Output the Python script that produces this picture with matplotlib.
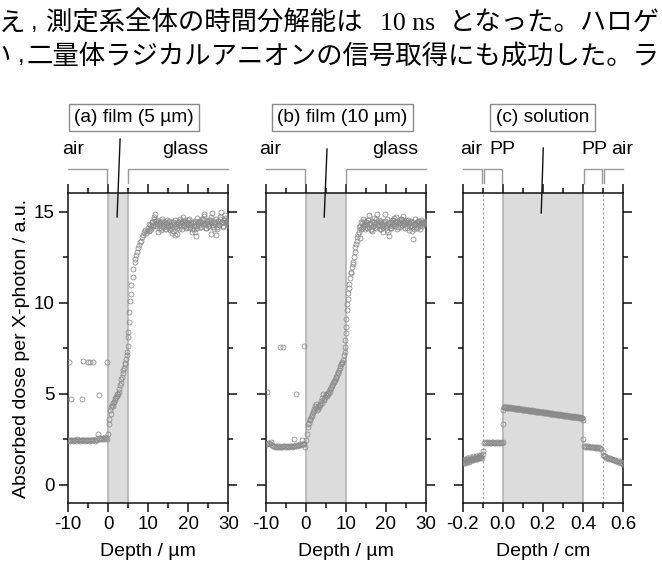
import numpy as np
import matplotlib
matplotlib.use('Agg')
import matplotlib.pyplot as plt
from matplotlib.transforms import blended_transform_factory
from matplotlib.ticker import MultipleLocator

plt.rcParams['font.family'] = ['Liberation Sans', 'DejaVu Sans']
plt.rcParams['axes.unicode_minus'] = False

# ---------------- text ----------------
jp_l1_first = "え"
jp_comma = ","
jp_l1_rest = "測定系全体の時間分解能は"
jp_l1_ns = "10 ns"
jp_l1_end = "となった。ハロゲ"
jp_l2_first = "い"
jp_l2_rest = "二量体ラジカルアニオンの信号取得にも成功した。ラ"

titles = ["(a) film (5 µm)", "(b) film (10 µm)", "(c) solution"]
xlabels = ["Depth / µm", "Depth / µm", "Depth / cm"]
ylabel = "Absorbed dose per X-photon / a.u."

# ---------------- panel (a) data ----------------
a_air_range = (-10.0, -0.25)
a_air_y = [2.42, 2.45, 2.40, 2.47, 2.43, 2.41, 2.46, 2.44, 2.40, 2.48,
           2.43, 2.45, 2.41, 2.47, 2.44, 2.42, 2.46, 2.40, 2.45, 2.43,
           2.47, 2.41, 2.44, 2.46, 2.42, 2.45, 2.43, 2.40, 2.48, 2.44,
           2.80, 2.55, 2.50, 2.58, 2.52, 2.55, 2.50, 2.60, 2.57, 2.52]
a_out_x = [-9.75, -6.25, -5.1, -4.5, -3.8, -0.3, -9.3, -6.4, -2.3]
a_out_y = [6.72, 6.80, 6.72, 6.72, 6.72, 6.75, 4.70, 4.72, 4.90]
a_film_range = (0.0, 5.0)
a_film_y = [2.75, 3.30, 3.60, 4.10, 3.85, 4.25, 4.35, 4.30, 4.50, 4.55,
            4.62, 4.75, 4.82, 4.88, 4.95, 5.00, 5.10, 5.25, 5.45, 5.60,
            5.80, 5.90, 6.10, 6.30, 6.40, 6.60, 6.70, 6.90, 7.10, 7.30, 7.60]
a_rise_x = [5.08, 5.08, 5.25, 5.33, 5.5, 5.67, 5.83, 6.1, 6.33, 6.6, 6.83, 7.0,
            7.17, 7.4, 7.67, 7.9, 8.17, 8.4, 8.67, 8.9, 9.25, 9.5, 9.75]
a_rise_y = [8.11, 8.40, 8.94, 9.49, 10.1, 10.46, 10.96, 11.4, 11.86, 12.2, 12.4, 12.6,
            12.77, 13.0, 13.15, 13.3, 13.4, 13.6, 13.7, 13.9, 14.0, 13.8, 13.95]
a_plat_range = (10.0, 30.0)
a_plat_y = [14.10, 13.95, 14.25, 14.05, 14.40, 14.20, 14.60, 14.85, 14.50, 14.30,
            14.45, 14.10, 14.35, 14.00, 14.50, 14.20, 14.40, 14.05, 14.30, 14.55,
            14.15, 14.40, 14.25, 14.10, 14.45, 13.95, 14.30, 13.70, 14.20, 13.75,
            14.35, 14.05, 14.50, 14.20, 14.45, 14.70, 14.25, 14.55, 14.10, 14.40,
            14.30, 14.60, 14.15, 14.35, 14.05, 14.45, 14.20, 13.85, 13.65, 14.10,
            14.40, 14.25, 14.50, 14.15, 14.35, 14.60, 14.85, 14.30, 14.10, 14.45,
            14.20, 14.55, 14.35, 14.70, 14.90, 14.25, 14.05, 14.40, 13.70, 14.15,
            14.50, 14.30, 14.60, 14.95, 14.40, 14.20, 14.55, 14.65, 14.35, 14.45, 14.25]
a_plat2_range = (10.125, 29.875)
a_plat2_y = [14.30, 14.00, 14.15, 14.45, 14.25, 14.70, 14.35, 14.20, 14.55, 13.85,
             14.25, 14.40, 14.10, 14.60, 14.30, 14.15, 14.45, 14.05, 14.35, 14.20,
             14.50, 14.00, 14.25, 13.80, 14.40, 14.15, 14.55, 14.30, 14.10, 14.45,
             14.25, 14.60, 14.35, 14.05, 14.50, 14.20, 14.40, 14.15, 14.30, 14.55,
             14.10, 14.45, 14.25, 13.90, 14.35, 14.05, 14.50, 14.20, 14.65, 14.30,
             14.45, 14.15, 14.40, 14.60, 14.25, 14.75, 14.35, 14.10, 14.50, 14.30,
             14.20, 14.55, 13.75, 14.40, 14.15, 14.45, 14.30, 14.60, 14.05, 14.50,
             14.25, 14.70, 14.35, 14.45, 14.15, 14.55, 14.80, 14.40, 14.50, 14.30]

# ---------------- panel (b) data ----------------
b_air_range = (-10.0, -0.25)
b_air_y = [2.25, 2.20, 2.30, 2.28, 2.22, 2.32, 2.18, 2.12, 2.10, 2.08,
           2.10, 2.06, 2.09, 2.07, 2.11, 2.08, 2.06, 2.10, 2.09, 2.07,
           2.11, 2.08, 2.10, 2.06, 2.09, 2.12, 2.08, 2.10, 2.13, 2.11,
           2.15, 2.12, 2.18, 2.15, 2.20, 2.17, 2.22, 2.25, 2.20, 2.05]
b_out_x = [-9.75, -6.4, -5.6, -0.35, -2.5, -2.85, -0.9]
b_out_y = [5.08, 7.56, 7.56, 7.60, 4.99, 2.50, 2.42]
b_film_range = (0.0, 9.75)
b_film_y = [2.45, 2.80, 3.15, 3.40, 3.60, 3.70, 3.85, 4.00, 4.15, 4.30,
            4.20, 4.10, 4.30, 4.25, 4.45, 4.60, 4.50, 4.95, 4.70, 4.80,
            4.90, 4.85, 5.05, 5.15, 5.10, 5.30, 5.45, 5.55, 5.65, 5.75,
            5.90, 6.00, 6.10, 6.30, 6.40, 6.60, 6.70, 6.85, 7.10, 7.30]
b_film2_x = [0.5, 1.0, 1.5, 2.1, 2.6, 3.1, 3.6, 4.1, 4.6, 5.1, 5.6, 6.1, 6.6,
             7.1, 7.6, 8.1, 8.6, 9.1]
b_film2_y = [3.30, 3.55, 3.75, 4.05, 4.40, 4.15, 4.35, 4.75, 4.65, 5.00, 5.00,
             5.25, 5.40, 5.70, 5.85, 6.20, 6.50, 6.75]
b_rise_x = [9.8, 9.9, 9.95, 10.05, 10.15, 10.25, 10.35, 10.5, 10.6, 10.75, 10.9,
            11.1, 11.25, 11.4, 11.6, 11.75, 11.9, 12.05, 12.2, 12.4, 12.55, 12.7,
            12.9, 13.05, 13.2, 13.4]
b_rise_y = [7.55, 7.93, 8.30, 8.66, 9.07, 9.58, 9.90, 10.20, 10.50, 10.80, 11.00,
            11.36, 11.60, 11.70, 11.93, 12.10, 12.24, 12.50, 12.80, 13.07, 13.20,
            13.38, 13.60, 13.75, 13.90, 14.17]
b_plat_range = (13.5, 30.0)
b_plat_y = [13.55, 14.05, 14.35, 14.15, 14.50, 14.25, 14.40, 14.10, 14.55, 14.80,
            14.30, 14.05, 13.95, 14.20, 14.45, 14.15, 14.60, 14.85, 14.35, 14.20,
            14.50, 14.05, 14.30, 14.15, 14.45, 14.85, 14.25, 14.00, 13.85, 13.65,
            14.10, 14.35, 14.20, 14.55, 14.30, 14.45, 14.70, 14.40, 14.15, 14.55,
            14.35, 14.60, 14.25, 14.75, 14.50, 14.30, 14.45, 14.10, 14.55, 14.35,
            14.20, 14.45, 13.95, 13.50, 14.05, 14.30, 14.15, 14.40, 14.25, 14.50,
            14.05, 14.35, 14.20, 14.45, 14.30, 14.50, 14.40]
b_plat2_range = (13.625, 29.875)
b_plat2_y = [14.20, 14.45, 14.10, 14.60, 14.30, 14.05, 14.40, 14.25, 14.55, 14.15,
             14.35, 14.00, 14.50, 14.20, 14.65, 14.30, 14.10, 14.45, 14.25, 14.55,
             14.05, 14.40, 14.20, 13.90, 14.30, 14.50, 14.15, 14.60, 14.35, 14.25,
             14.45, 14.10, 14.55, 14.30, 14.65, 14.20, 14.40, 14.05, 14.50, 14.35,
             14.15, 14.60, 14.25, 14.45, 14.30, 14.10, 14.55, 14.20, 14.40, 14.00,
             14.35, 14.50, 14.15, 14.45, 14.25, 14.60, 14.30, 14.10, 14.50, 14.35,
             14.20, 14.55, 14.40, 14.30, 14.45, 14.35]

# ---------------- panel (c) data ----------------
c_airl_range = (-0.2, -0.105)
c_airl_y = [1.22, 1.30, 1.18, 1.35, 1.25, 1.40, 1.28, 1.38, 1.32, 1.45,
            1.35, 1.42, 1.50, 1.38, 1.48, 1.44, 1.55, 1.46, 1.52, 1.48]
c_airl2_range = (-0.1975, -0.1075)
c_airl2_y = [1.35, 1.20, 1.42, 1.30, 1.48, 1.35, 1.25, 1.50, 1.40, 1.33,
             1.55, 1.45, 1.38, 1.58, 1.42, 1.50, 1.60, 1.52, 1.62]
c_ppl_range = (-0.095, -0.005)
c_ppl_y = [2.30, 2.32, 2.28, 2.31, 2.29, 2.33, 2.30, 2.28, 2.31, 2.32,
           2.29, 2.30, 2.33, 2.28, 2.31, 2.30, 2.29, 2.32, 2.30]
c_sol_range = (0.005, 0.395)
c_sol_y = [4.28, 4.25, 4.27, 4.22, 4.25, 4.21, 4.24, 4.20, 4.22, 4.19,
           4.21, 4.17, 4.19, 4.15, 4.18, 4.14, 4.16, 4.13, 4.15, 4.12,
           4.13, 4.09, 4.12, 4.08, 4.10, 4.06, 4.09, 4.05, 4.07, 4.04,
           4.06, 4.02, 4.04, 4.00, 4.03, 3.99, 4.01, 3.97, 3.99, 3.96,
           3.98, 3.94, 3.96, 3.92, 3.95, 3.91, 3.93, 3.89, 3.92, 3.88,
           3.90, 3.86, 3.88, 3.84, 3.87, 3.83, 3.85, 3.81, 3.84, 3.80,
           3.82, 3.78, 3.80, 3.76, 3.79, 3.75, 3.77, 3.73, 3.76, 3.72,
           3.74, 3.70, 3.73, 3.69, 3.71, 3.67, 3.70, 3.66, 3.64]
c_sol2_range = (0.0075, 0.3975)
c_sol2_y = [4.24, 4.25, 4.22, 4.21, 4.20, 4.18, 4.17, 4.15, 4.14, 4.12,
            4.09, 4.10, 4.07, 4.05, 4.04, 4.03, 4.01, 4.00, 3.98, 3.97,
            3.93, 3.94, 3.92, 3.90, 3.89, 3.87, 3.86, 3.84, 3.83, 3.81,
            3.78, 3.79, 3.76, 3.75, 3.73, 3.72, 3.71, 3.69, 3.67, 3.66]
c_ppr_range = (0.405, 0.49)
c_ppr_y = [2.10, 2.08, 2.11, 2.07, 2.09, 2.06, 2.08, 2.05, 2.07, 2.04,
           2.06, 2.03, 2.05, 2.02, 2.04, 2.00, 1.98, 1.96]
c_airr_range = (0.5, 0.6)
c_airr_y = [1.62, 1.55, 1.58, 1.48, 1.52, 1.45, 1.42, 1.46, 1.38, 1.40, 1.35,
            1.32, 1.36, 1.28, 1.30, 1.25, 1.27, 1.20, 1.22, 1.17, 1.14]
c_extra_x = [-0.1, -0.1, 0.0, 0.0, 0.0, 0.4, 0.4, 0.498]
c_extra_y = [1.70, 1.85, 2.33, 3.30, 4.11, 3.55, 2.52, 1.78]


def grid(rng, ys):
    return np.linspace(rng[0], rng[1], len(ys)), np.asarray(ys)


panel_a = [grid(a_air_range, a_air_y), (a_out_x, a_out_y), grid(a_film_range, a_film_y),
           (a_rise_x, a_rise_y), grid(a_plat_range, a_plat_y), grid(a_plat2_range, a_plat2_y)]
panel_b = [grid(b_air_range, b_air_y), (b_out_x, b_out_y), grid(b_film_range, b_film_y),
           (b_film2_x, b_film2_y), (b_rise_x, b_rise_y), grid(b_plat_range, b_plat_y),
           grid(b_plat2_range, b_plat2_y)]
panel_c = [grid(c_airl_range, c_airl_y), grid(c_airl2_range, c_airl2_y), grid(c_ppl_range, c_ppl_y),
           grid(c_sol_range, c_sol_y), grid(c_sol2_range, c_sol2_y), grid(c_ppr_range, c_ppr_y),
           grid(c_airr_range, c_airr_y), (c_extra_x, c_extra_y)]

# ---------------- layout ----------------
W, H = 662, 564
fig = plt.figure(figsize=(W / 100, H / 100), dpi=100)


def fx(px):
    return px / W


def fy(py):
    return 1 - py / H


ax_top, ax_bot = 193.3, 502.7
lefts = [68.0, 265.7, 462.7]
ax_w = 160.3

cfg = [
    dict(data=panel_a, xlim=(-10, 30), major=10, minor=5, span=(0, 5), dotted=[],
         title_x=6.5, labels=[("air", -8.75), ("glass", 19.25)],
         brackets=[[(-10, 0), (-0.25, 0), (-0.25, 1)], [(5.0, 1), (5.0, 0), (30, 0)]],
         pointer=((3.0, 139), (2.25, 217)), fmt="{:.0f}"),
    dict(data=panel_b, xlim=(-10, 30), major=10, minor=5, span=(0, 10), dotted=[],
         title_x=9.2, labels=[("air", -8.9), ("glass", 22.3)],
         brackets=[[(-10, 0), (-0.2, 0), (-0.2, 1)], [(10.1, 1), (10.1, 0), (30, 0)]],
         pointer=((5.3, 149), (4.6, 217)), fmt="{:.0f}"),
    dict(data=panel_c, xlim=(-0.2, 0.6), major=0.2, minor=0.1, span=(0, 0.4), dotted=[-0.1, 0.5],
         title_x=0.198, labels=[("air", -0.157), ("PP", -0.004), ("PP", 0.456), ("air", 0.597)],
         brackets=[[(-0.2, 0), (-0.105, 0), (-0.105, 1)],
                   [(-0.095, 1), (-0.095, 0), (-0.005, 0), (-0.005, 1)],
                   [(0.403, 1), (0.403, 0), (0.497, 0), (0.497, 1)],
                   [(0.507, 1), (0.507, 0), (0.6, 0)]],
         pointer=((0.202, 148), (0.192, 213)), fmt="{:.1f}"),
]

br_y = {0: fy(169), 1: fy(183)}
tick_col = '#111111'
fs_tick = 13.5
fs_lab = 14

for i, c in enumerate(cfg):
    ax = fig.add_axes([fx(lefts[i]), fy(ax_bot), ax_w / W, (ax_bot - ax_top) / H])
    ax.set_xlim(*c['xlim'])
    ax.set_ylim(-1, 16)
    ax.axvspan(c['span'][0], c['span'][1], facecolor='#dcdcdc', edgecolor='none', zorder=0)
    for xv in c['span']:
        ax.axvline(xv, color='#b4b4b4', lw=1.2, zorder=1)
    for xv in c['dotted']:
        ax.axvline(xv, color='#a0a0a0', lw=0.8, ls=(0, (2, 2)), zorder=1)
    for xs, ys in c['data']:
        ax.plot(xs, ys, ls='none', marker='o', ms=3.6, mfc='none', mec='#8a8a8a',
                mew=0.55, zorder=3)
    ax.xaxis.set_major_locator(MultipleLocator(c['major']))
    ax.xaxis.set_minor_locator(MultipleLocator(c['minor']))
    ax.yaxis.set_major_locator(MultipleLocator(5))
    ax.yaxis.set_minor_locator(MultipleLocator(2.5))
    ticks = ax.get_xticks()
    ax.set_xticks(ticks)
    ax.set_xticklabels([c['fmt'].format(0.0 if abs(t) < 1e-9 else t) for t in ticks])
    ax.set_xlim(*c['xlim'])
    ax.tick_params(which='both', direction='out', top=True, right=True, width=1.1,
                   color=tick_col, labelsize=fs_tick, pad=3)
    ax.tick_params(which='major', length=6.5)
    ax.tick_params(which='minor', length=3.5)
    for s in ax.spines.values():
        s.set_linewidth(1.1)
        s.set_color(tick_col)
    if i > 0:
        ax.tick_params(axis='y', labelleft=False)
    else:
        ax.set_ylabel(ylabel, fontsize=fs_lab, labelpad=3)
    ax.set_xlabel(xlabels[i], fontsize=fs_lab, labelpad=7)

    tr = blended_transform_factory(ax.transData, fig.transFigure)
    ax.text(c['title_x'], fy(117.5), titles[i], transform=tr, ha='center', va='center',
            fontsize=13.8, bbox=dict(boxstyle='square,pad=0.28', fc='white', ec='#8a8a8a', lw=1))
    for lab, lx in c['labels']:
        ax.text(lx, fy(150), lab, transform=tr, ha='center', va='center', fontsize=14)
    for br in c['brackets']:
        ax.plot([p[0] for p in br], [br_y[p[1]] for p in br], color='#999999', lw=1,
                transform=tr, clip_on=False)
    (x0, y0), (x1, y1) = c['pointer']
    ax.plot([x0, x1], [fy(y0), fy(y1)], color='#111111', lw=1, transform=tr,
            clip_on=False, zorder=5)

# ---------------- Japanese text ----------------
jp_font = ['Noto Sans CJK JP', 'DejaVu Sans']
fs_jp = 19
y1, y2 = fy(23), fy(56)
fig.text(fx(-1), y1, jp_l1_first, family=jp_font, fontsize=fs_jp, ha='left', va='center')
fig.text(fx(34), y1, jp_comma, family=['Liberation Sans'], fontsize=17, ha='center', va='center')
fig.text(fx(46), y1, jp_l1_rest, family=jp_font, fontsize=fs_jp, ha='left', va='center')
fig.text(fx(408), y1 - 0.002, jp_l1_ns, family=['Liberation Serif'], fontsize=18.5, ha='center', va='center')
fig.text(fx(660), y1, jp_l1_end, family=jp_font, fontsize=fs_jp, ha='right', va='center')
fig.text(fx(11), y2, jp_l2_first, family=jp_font, fontsize=fs_jp, ha='right', va='center')
fig.text(fx(21), y2, jp_comma, family=['Liberation Sans'], fontsize=17, ha='center', va='center')
fig.text(fx(660), y2, jp_l2_rest, family=jp_font, fontsize=fs_jp, ha='right', va='center')

fig.savefig('out.png', dpi=100)
